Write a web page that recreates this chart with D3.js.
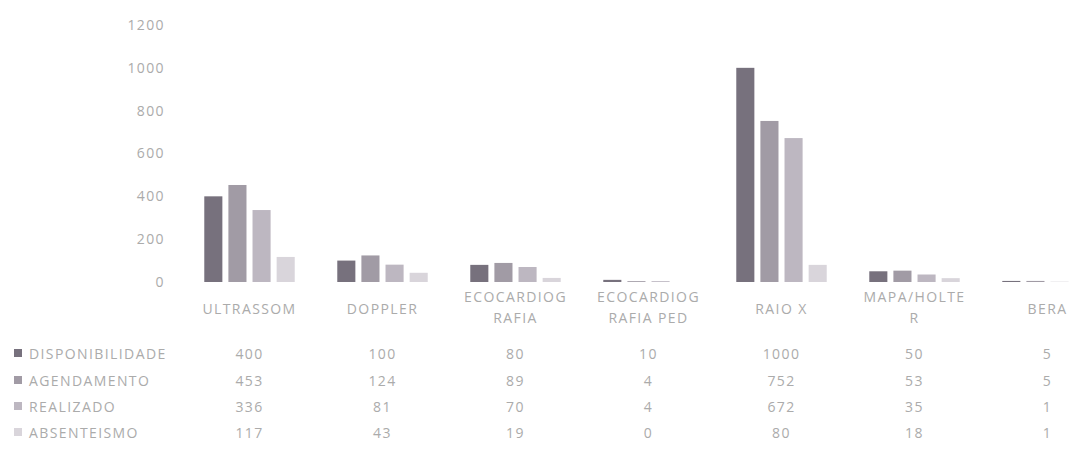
<!DOCTYPE html>
<html>
<head>
<meta charset="utf-8">
<script src="https://cdn.jsdelivr.net/npm/d3@7"></script>
<style>
  html, body { margin: 0; padding: 0; background: #ffffff; }
  svg { display: block; font-family: "Open Sans", Lato, sans-serif; }
  svg text { font-size: 14px; letter-spacing: 1.4px; fill: #ababab; }
</style>
</head>
<body>
<svg id="chart" width="1071" height="459"></svg>
<script>
const categories = ["ULTRASSOM", "DOPPLER", "ECOCARDIOGRAFIA", "ECOCARDIOGRAFIA PED", "RAIO X", "MAPA/HOLTER", "BERA"];
const categoryLabelLines = [["ULTRASSOM"], ["DOPPLER"], ["ECOCARDIOG", "RAFIA"], ["ECOCARDIOG", "RAFIA PED"], ["RAIO X"], ["MAPA/HOLTE", "R"], ["BERA"]];
const seriesNames = ["DISPONIBILIDADE", "AGENDAMENTO", "REALIZADO", "ABSENTEISMO"];
const disponibilidade = [400, 100, 80, 10, 1000, 50, 5];
const agendamento = [453, 124, 89, 4, 752, 53, 5];
const realizado = [336, 81, 70, 4, 672, 35, 1];
const absenteismo = [117, 43, 19, 0, 80, 18, 1];
const yTicks = [0, 200, 400, 600, 800, 1000, 1200];

const seriesValues = [disponibilidade, agendamento, realizado, absenteismo];
const colors = ["#77717d", "#a19ba5", "#bdb7c1", "#d9d5db"];

const svg = d3.select("#chart");

const x = d3.scaleBand().domain(categories).range([183, 1114]).paddingInner(0.32).paddingOuter(0.16);
const x1 = d3.scaleBand().domain(seriesNames).range([0, x.bandwidth()]).paddingInner(0.25);
const y = d3.scaleLinear().domain([0, 1200]).range([282, 25]);

// y axis
const yAxis = d3.axisLeft(y).tickValues(yTicks).tickSize(0).tickPadding(0).tickFormat(d3.format("d"));
const yg = svg.append("g").attr("transform", "translate(165,0)").call(yAxis);
yg.select(".domain").remove();
yg.attr("font-family", null).attr("font-size", null);
yg.selectAll("text").attr("fill", null);

// bars
const groups = svg.append("g").selectAll("g").data(categories).join("g")
  .attr("transform", d => `translate(${x(d)},0)`);
groups.selectAll("rect")
  .data((d, i) => seriesNames.map((s, k) => ({ s, k, v: seriesValues[k][i] })))
  .join("rect")
  .attr("x", d => x1(d.s))
  .attr("width", x1.bandwidth())
  .attr("y", d => y(d.v))
  .attr("height", d => y(0) - y(d.v))
  .attr("fill", d => colors[d.k]);

// category labels
const labelG = svg.append("g");
categories.forEach((c, i) => {
  const lines = categoryLabelLines[i];
  const cx = x(c) + x.bandwidth() / 2;
  const startY = lines.length === 1 ? 314 : 302;
  lines.forEach((ln, j) => {
    labelG.append("text")
      .attr("x", cx).attr("y", startY + j * 21)
      .attr("text-anchor", "middle")
      .text(ln);
  });
});

// data table
const rowY = [359, 386, 412, 438];
const tableG = svg.append("g");
seriesNames.forEach((s, k) => {
  tableG.append("rect").attr("x", 14).attr("y", rowY[k] - 10).attr("width", 8).attr("height", 8).attr("fill", colors[k]);
  tableG.append("text").attr("x", 29).attr("y", rowY[k]).text(s);
  categories.forEach((c, i) => {
    tableG.append("text")
      .attr("x", x(c) + x.bandwidth() / 2).attr("y", rowY[k])
      .attr("text-anchor", "middle")
      .text(seriesValues[k][i]);
  });
});
</script>
</body>
</html>
